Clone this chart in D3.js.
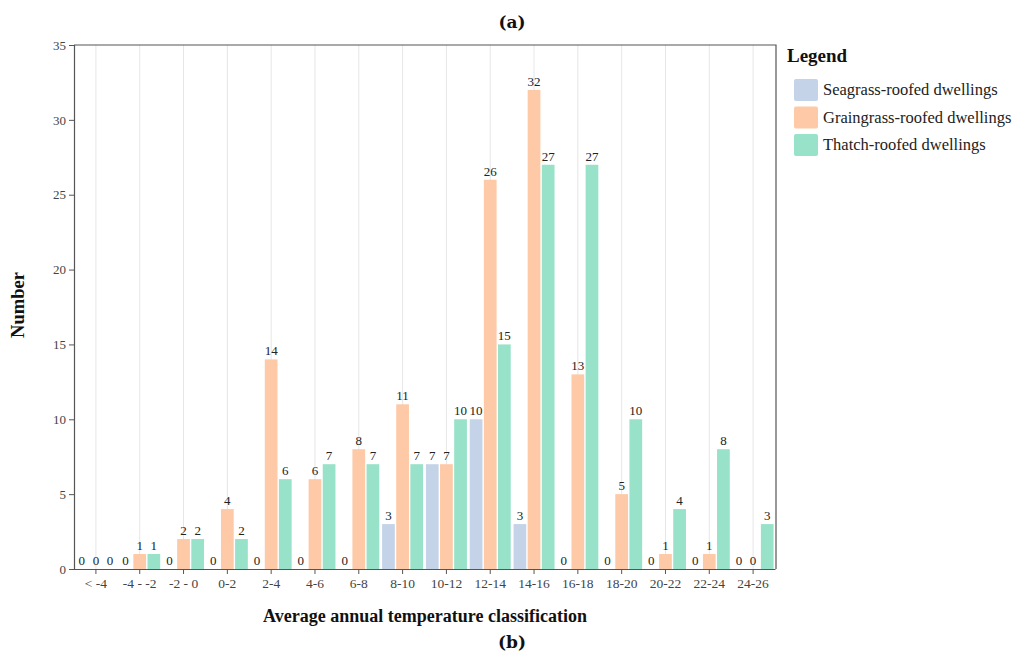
<!DOCTYPE html>
<html>
<head>
<meta charset="utf-8">
<script src="https://cdn.jsdelivr.net/npm/d3@7/dist/d3.min.js"></script>
<style>
  html, body { margin: 0; padding: 0; background: #fff; }
  svg { display: block; font-family: "Liberation Serif", "DejaVu Serif", serif; }
</style>
</head>
<body>
<svg id="chart" width="1015" height="656"></svg>
<script>
// Temperature classes (°C) and dwelling counts per roof type
const categories = ["< -4", "-4 - -2", "-2 - 0", "0-2", "2-4", "4-6", "6-8", "8-10",
                    "10-12", "12-14", "14-16", "16-18", "18-20", "20-22", "22-24", "24-26"];
const seriesNames = ["Seagrass-roofed dwellings", "Graingrass-roofed dwellings", "Thatch-roofed dwellings"];
const seagrass   = [0, 0, 0, 0, 0, 0, 0, 3, 7, 10, 3, 0, 0, 0, 0, 0];
const graingrass = [0, 1, 2, 4, 14, 6, 8, 11, 7, 26, 32, 13, 5, 1, 1, 0];
const thatch     = [0, 1, 2, 2, 6, 7, 7, 7, 10, 15, 27, 27, 10, 4, 8, 3];
const yTicks = [0, 5, 10, 15, 20, 25, 30, 35];
const colors = ["#c5d3e8", "#fec9a6", "#97e2c9"];

const seriesValues = [seagrass, graingrass, thatch];
const rows = categories.map((c, i) => ({
  cat: c,
  values: seriesNames.map((s, k) => ({ series: s, k, value: seriesValues[k][i] }))
}));

const svg = d3.select("#chart");
const plot = { left: 74, right: 776, top: 45, bottom: 569 };

const x = d3.scaleBand().domain(categories).range([plot.left, plot.right - 1]).padding(0);
const xInner = d3.scaleBand().domain(seriesNames).range([0, x.bandwidth()])
  .paddingInner(0.1).paddingOuter(0.1);
const y = d3.scaleLinear().domain([0, 35]).range([plot.bottom, plot.top]);

// vertical grid lines at each class
svg.append("g")
  .selectAll("line")
  .data(categories)
  .join("line")
  .attr("x1", d => x(d) + x.bandwidth() / 2)
  .attr("x2", d => x(d) + x.bandwidth() / 2)
  .attr("y1", plot.top)
  .attr("y2", plot.bottom)
  .attr("stroke", "#e6e6e6")
  .attr("stroke-width", 1);

// bars
const groups = svg.append("g")
  .selectAll("g")
  .data(rows)
  .join("g")
  .attr("transform", d => `translate(${x(d.cat)},0)`);

groups.selectAll("rect")
  .data(d => d.values)
  .join("rect")
  .attr("x", d => xInner(d.series))
  .attr("width", xInner.bandwidth())
  .attr("y", d => y(d.value))
  .attr("height", d => y(0) - y(d.value))
  .attr("fill", d => colors[d.k]);

// value labels
groups.selectAll("text")
  .data(d => d.values)
  .join("text")
  .attr("x", d => xInner(d.series) + xInner.bandwidth() / 2)
  .attr("y", d => y(d.value) - 4)
  .attr("text-anchor", "middle")
  .attr("font-size", 13)
  .attr("fill", "#222")
  .text(d => d.value);

// frame (top and right)
svg.append("path")
  .attr("d", `M${plot.left},${plot.top}H${plot.right}V${plot.bottom}`)
  .attr("fill", "none")
  .attr("stroke", "#555")
  .attr("stroke-width", 1.2);

// y axis
const yAxis = svg.append("g")
  .attr("transform", `translate(${plot.left},0)`)
  .call(d3.axisLeft(y).tickValues(yTicks).tickSize(5).tickPadding(3));
yAxis.select(".domain").attr("stroke", "#555").attr("stroke-width", 1.2);
yAxis.selectAll(".tick line").attr("stroke", "#555");
yAxis.selectAll(".tick text")
  .attr("font-family", "Liberation Serif, serif")
  .attr("font-size", 13)
  .attr("fill", "#444");

// x axis
const xAxis = svg.append("g")
  .attr("transform", `translate(0,${plot.bottom})`)
  .call(d3.axisBottom(x).tickSize(5).tickPadding(4).tickSizeOuter(0));
xAxis.select(".domain").attr("stroke", "#555").attr("stroke-width", 1.2);
xAxis.selectAll(".tick line").attr("stroke", "#555");
xAxis.selectAll(".tick text")
  .attr("font-family", "Liberation Serif, serif")
  .attr("font-size", 13.5)
  .attr("fill", "#444");

// axis titles
svg.append("text")
  .attr("x", 425)
  .attr("y", 622)
  .attr("text-anchor", "middle")
  .attr("font-size", 18)
  .attr("font-weight", "bold")
  .attr("fill", "#111")
  .text("Average annual temperature classification");

svg.append("text")
  .attr("transform", "translate(24,305) rotate(-90)")
  .attr("text-anchor", "middle")
  .attr("font-size", 18.5)
  .attr("font-weight", "bold")
  .attr("fill", "#111")
  .text("Number");

// panel labels
svg.append("text")
  .attr("x", 512).attr("y", 28)
  .attr("text-anchor", "middle")
  .attr("font-family", "DejaVu Serif, serif")
  .attr("font-size", 17)
  .attr("font-weight", "bold")
  .attr("fill", "#111")
  .text("(a)");
svg.append("text")
  .attr("x", 512).attr("y", 648)
  .attr("text-anchor", "middle")
  .attr("font-family", "DejaVu Serif, serif")
  .attr("font-size", 17)
  .attr("font-weight", "bold")
  .attr("fill", "#111")
  .text("(b)");

// legend
const legend = svg.append("g").attr("transform", "translate(787,0)");
legend.append("text")
  .attr("x", 0).attr("y", 62)
  .attr("font-size", 19)
  .attr("font-weight", "bold")
  .attr("fill", "#111")
  .text("Legend");
const items = legend.selectAll("g.item")
  .data(seriesNames)
  .join("g")
  .attr("class", "item")
  .attr("transform", (d, i) => `translate(7,${79 + i * 27.5})`);
items.append("rect")
  .attr("width", 24).attr("height", 22)
  .attr("rx", 2)
  .attr("fill", (d, i) => colors[i]);
items.append("text")
  .attr("x", 29).attr("y", 16)
  .attr("font-size", 16.5)
  .attr("fill", "#222")
  .text(d => d);
</script>
</body>
</html>
